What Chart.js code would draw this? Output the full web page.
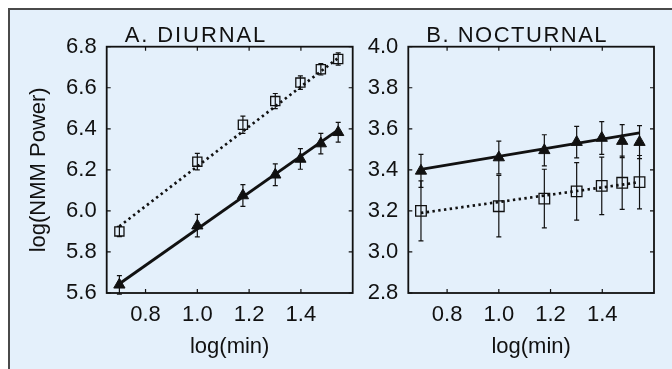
<!DOCTYPE html>
<html>
<head>
<meta charset="utf-8">
<script src="https://cdn.jsdelivr.net/npm/chart.js@4/dist/chart.umd.min.js"></script>
<style>
  html, body { margin: 0; padding: 0; background: #ffffff; }
  #frame { position: absolute; left: 8px; top: 8px; width: 664px; height: 361px;
           background: #e4f0fb; border-top: 2px solid #4a4a4a; border-left: 2px solid #4a4a4a; box-sizing: border-box; }
  canvas { position: absolute; left: 0; top: 0; }
</style>
</head>
<body>
<div id="frame"></div>
<canvas id="cA" width="672" height="369"></canvas>
<canvas id="cB" width="672" height="369"></canvas>
<script>
// ---- data ----
const logMin = [0.699, 1.0, 1.176, 1.301, 1.398, 1.477, 1.544];
const fitX = [0.699, 1.544];
const xTicks = [0.8, 1.0, 1.2, 1.4];

const diurnalTicks = [5.6, 5.8, 6.0, 6.2, 6.4, 6.6, 6.8];
const diurnalSquare = [5.90, 6.24, 6.42, 6.535, 6.625, 6.69, 6.74];
const diurnalSquareErr = [0.025, 0.04, 0.042, 0.037, 0.033, 0.028, 0.03];
const diurnalTriangle = [5.64, 5.928, 6.075, 6.176, 6.253, 6.328, 6.383];
const diurnalTriangleErr = [0.045, 0.055, 0.053, 0.053, 0.05, 0.05, 0.048];
const diurnalSquareFit = [5.925, 6.745];
const diurnalTriangleFit = [5.645, 6.395];

const nocturnalTicks = [2.8, 3.0, 3.2, 3.4, 3.6, 3.8, 4.0];
const nocturnalSquare = [3.20, 3.223, 3.26, 3.295, 3.322, 3.337, 3.34];
const nocturnalSquareErr = [0.146, 0.15, 0.143, 0.14, 0.14, 0.13, 0.13];
const nocturnalTriangle = [3.395, 3.46, 3.495, 3.535, 3.555, 3.54, 3.535];
const nocturnalTriangleErr = [0.08, 0.08, 0.076, 0.077, 0.08, 0.08, 0.08];
const nocturnalSquareFit = [3.19, 3.34];
const nocturnalTriangleFit = [3.402, 3.58];

const FONT = "'Liberation Sans', Arial, Helvetica, sans-serif";
const INK = '#111111';

function pts(xs, ys) { return xs.map((x, i) => ({ x: x, y: ys[i] })); }

const panelPlugin = {
  id: 'panel',
  afterDatasetsDraw(chart, args, opts) {
    const { ctx, chartArea: a, scales: { x, y } } = chart;
    ctx.save();
    // error bars
    ctx.strokeStyle = INK; ctx.lineWidth = 1.2;
    chart.data.datasets.forEach(ds => {
      if (!ds.err) return;
      ds.data.forEach((p, i) => {
        const px = x.getPixelForValue(p.x);
        const y1 = y.getPixelForValue(p.y + ds.err[i]);
        const y2 = y.getPixelForValue(p.y - ds.err[i]);
        ctx.beginPath();
        ctx.moveTo(px, y1); ctx.lineTo(px, y2);
        ctx.moveTo(px - 2.5, y1); ctx.lineTo(px + 2.5, y1);
        ctx.moveTo(px - 2.5, y2); ctx.lineTo(px + 2.5, y2);
        ctx.stroke();
      });
    });
    // frame
    ctx.lineWidth = 1.8; ctx.strokeStyle = INK;
    ctx.strokeRect(a.left, a.top, a.right - a.left, a.bottom - a.top);
    // inward ticks on all four sides
    ctx.lineWidth = 1.2;
    ctx.beginPath();
    x.ticks.forEach(t => {
      const px = x.getPixelForValue(t.value);
      ctx.moveTo(px, a.bottom); ctx.lineTo(px, a.bottom - 4);
      ctx.moveTo(px, a.top); ctx.lineTo(px, a.top + 4);
    });
    y.ticks.forEach(t => {
      const py = y.getPixelForValue(t.value);
      ctx.moveTo(a.left, py); ctx.lineTo(a.left + 4, py);
      ctx.moveTo(a.right, py); ctx.lineTo(a.right - 4, py);
    });
    ctx.stroke();
    // panel title
    ctx.fillStyle = INK;
    ctx.font = '22px ' + FONT;
    if ('letterSpacing' in ctx) ctx.letterSpacing = opts.spacing;
    ctx.textBaseline = 'alphabetic';
    ctx.textAlign = 'left';
    ctx.fillText(opts.text, a.left + 18, 41.5);
    ctx.restore();
  }
};

function makeChart(id, cfg) {
  return new Chart(document.getElementById(id), {
    type: 'scatter',
    data: {
      datasets: [
        { data: pts(fitX, cfg.sqFit), showLine: true, pointRadius: 0, borderColor: INK,
          borderWidth: 2.7, borderDash: [2.4, 3.4], fill: false },
        { data: pts(fitX, cfg.trFit), showLine: true, pointRadius: 0, borderColor: INK,
          borderWidth: 2.9, fill: false },
        { data: pts(logMin, cfg.sq), err: cfg.sqErr, showLine: false, pointStyle: 'rect',
          pointRadius: cfg.sqR, borderColor: INK, borderWidth: 1.3, backgroundColor: 'rgba(0,0,0,0)' },
        { data: pts(logMin, cfg.tr), err: cfg.trErr, showLine: false, pointStyle: 'triangle',
          pointRadius: 6.5, borderColor: INK, borderWidth: 1, backgroundColor: INK }
      ]
    },
    options: {
      responsive: false,
      animation: false,
      events: [],
      layout: { padding: { left: cfg.padLeft, right: cfg.padRight, top: 46.7, bottom: 0 } },
      plugins: { legend: { display: false }, tooltip: { enabled: false },
                 panel: { text: cfg.title, spacing: cfg.spacing } },
      scales: {
        x: {
          type: 'linear', min: 0.65, max: 1.60,
          afterBuildTicks: s => { s.ticks = xTicks.map(v => ({ value: v })); },
          afterFit: s => { s.height = 76; },
          grid: { display: false, drawTicks: false },
          border: { display: false },
          ticks: { padding: 9, color: INK, font: { family: FONT, size: 22 },
                   callback: v => v.toFixed(1) },
          title: { display: true, text: 'log(min)', color: INK, font: { family: FONT, size: 22 },
                   padding: { top: 0, bottom: 9 } }
        },
        y: {
          type: 'linear', min: cfg.ticks[0], max: cfg.ticks[cfg.ticks.length - 1],
          afterBuildTicks: s => { s.ticks = cfg.ticks.map(v => ({ value: v })); },
          afterFit: s => { s.width = cfg.yWidth; },
          grid: { display: false, drawTicks: false },
          border: { display: false },
          ticks: { padding: 10, color: INK, font: { family: FONT, size: 22 },
                   callback: v => v.toFixed(1) },
          title: { display: cfg.yTitle !== '', text: cfg.yTitle, color: INK,
                   font: { family: FONT, size: 22 }, padding: { top: 26, bottom: 0 } }
        }
      }
    },
    plugins: [panelPlugin]
  });
}

makeChart('cA', {
  title: 'A. DIURNAL', spacing: '1.9px', padLeft: 0, yWidth: 106.7, padRight: 672 - 352.7,
  ticks: diurnalTicks, sq: diurnalSquare, sqErr: diurnalSquareErr, tr: diurnalTriangle,
  trErr: diurnalTriangleErr, sqFit: diurnalSquareFit, trFit: diurnalTriangleFit,
  sqR: 6.5, yTitle: 'log(NMM Power)'
});
makeChart('cB', {
  title: 'B. NOCTURNAL', spacing: '1.5px', padLeft: 360, yWidth: 48.3, padRight: 18,
  ticks: nocturnalTicks, sq: nocturnalSquare, sqErr: nocturnalSquareErr, tr: nocturnalTriangle,
  trErr: nocturnalTriangleErr, sqFit: nocturnalSquareFit, trFit: nocturnalTriangleFit,
  sqR: 7.5, yTitle: ''
});
</script>
</body>
</html>
